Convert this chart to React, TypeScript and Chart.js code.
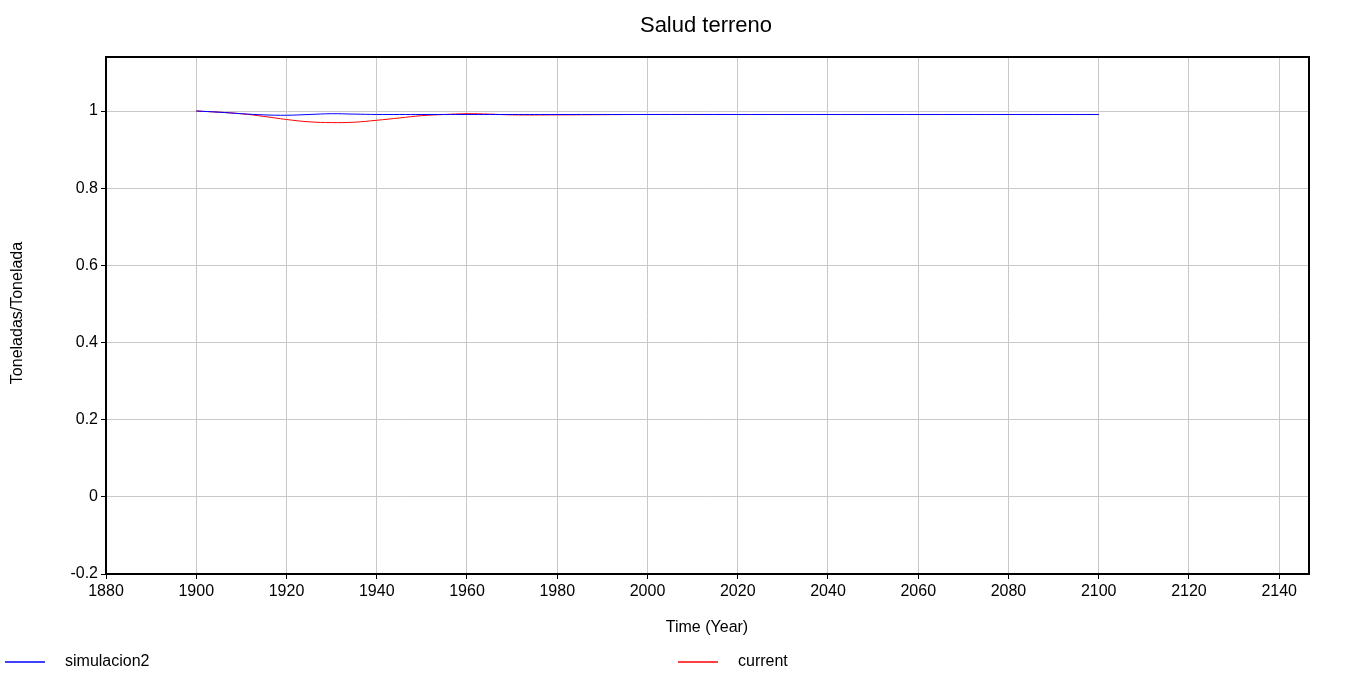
import React, { useEffect, useRef } from "react";
import { Chart, registerables } from "chart.js";
Chart.register(...registerables);

const years = [1900, 1905, 1910, 1915, 1920, 1925, 1930, 1935, 1940, 1945, 1950, 1955, 1960, 1965, 1970, 1980, 2000, 2020, 2040, 2060, 2080, 2100];
const simulacion2 = [1.0, 0.997, 0.993, 0.99, 0.989, 0.991, 0.993, 0.992, 0.991, 0.991, 0.991, 0.991, 0.991, 0.991, 0.991, 0.991, 0.991, 0.991, 0.991, 0.991, 0.991, 0.991];
const current = [1.0, 0.997, 0.993, 0.986, 0.978, 0.972, 0.97, 0.971, 0.976, 0.982, 0.988, 0.991, 0.993, 0.992, 0.99, 0.99, 0.991, 0.991, 0.991, 0.991, 0.991, 0.991];
const xTicks = [1880, 1900, 1920, 1940, 1960, 1980, 2000, 2020, 2040, 2060, 2080, 2100, 2120, 2140];
const yTicks = [-0.2, 0, 0.2, 0.4, 0.6, 0.8, 1];

export default function App() {
  const ref = useRef<HTMLCanvasElement>(null);
  useEffect(() => {
    document.body.style.margin = "0";
    const font = "'Liberation Sans', Arial, sans-serif";
    Chart.defaults.font.family = font;
    const deco = {
      id: "deco",
      afterDraw(c: any) {
        const { ctx, chartArea: a } = c;
        ctx.save();
        ctx.strokeStyle = "#000";
        ctx.lineWidth = 2;
        ctx.strokeRect(a.left, a.top, a.right - a.left, a.bottom - a.top);
        ctx.fillStyle = "#000";
        ctx.font = `22px ${font}`;
        ctx.textAlign = "center";
        ctx.textBaseline = "middle";
        ctx.fillText("Salud terreno", 706, 26);
        ctx.font = `16px ${font}`;
        ctx.fillText("Time (Year)", 707, 628);
        ctx.save();
        ctx.translate(18, 313);
        ctx.rotate(-Math.PI / 2);
        ctx.fillText("Toneladas/Tonelada", 0, 0);
        ctx.restore();
        ctx.textAlign = "left";
        const items = [
          { x: 5, c: "#0000ff", t: c.data.datasets[0].label },
          { x: 678, c: "#ff0000", t: c.data.datasets[1].label },
        ];
        for (const it of items) {
          ctx.strokeStyle = it.c;
          ctx.lineWidth = 1.5;
          ctx.beginPath();
          ctx.moveTo(it.x, 662);
          ctx.lineTo(it.x + 40, 662);
          ctx.stroke();
          ctx.fillText(it.t, it.x + 60, 662);
        }
        ctx.restore();
      },
    };
    const chart = new Chart(ref.current!, {
      type: "line",
      data: {
        datasets: [
          { label: "simulacion2", data: years.map((x, i) => ({ x, y: simulacion2[i] })), borderColor: "#0000ff", borderWidth: 1, pointRadius: 0, tension: 0.4 },
          { label: "current", data: years.map((x, i) => ({ x, y: current[i] })), borderColor: "#ff0000", borderWidth: 1, pointRadius: 0, tension: 0.4 },
        ],
      },
      options: {
        animation: false,
        responsive: false,
        layout: { padding: { left: 0, right: 39, top: 57, bottom: 0 } },
        plugins: { legend: { display: false }, tooltip: { enabled: false } },
        scales: {
          x: {
            type: "linear", min: 1880, max: 2146.6,
            afterFit: (s: any) => { s.height = 107; },
            afterBuildTicks: (s: any) => { s.ticks = xTicks.map((v) => ({ value: v })); },
            ticks: { color: "#000", font: { size: 16 }, maxRotation: 0, autoSkip: false, callback: (v: any) => String(v) },
            grid: { color: "#c8c8c8", tickLength: 5, tickColor: "#000" },
            border: { display: false },
          },
          y: {
            min: -0.2, max: 1.14,
            afterFit: (s: any) => { s.width = 106; },
            afterBuildTicks: (s: any) => { s.ticks = yTicks.map((v) => ({ value: v })); },
            ticks: { color: "#000", font: { size: 16 }, callback: (v: any) => String(Math.round(v * 10) / 10) },
            grid: { color: "#c8c8c8", tickLength: 5, tickColor: "#000" },
            border: { display: false },
          },
        },
      },
      plugins: [deco],
    });
    return () => chart.destroy();
  }, []);
  return <canvas ref={ref} width={1348} height={681} style={{ display: "block" }} />;
}
